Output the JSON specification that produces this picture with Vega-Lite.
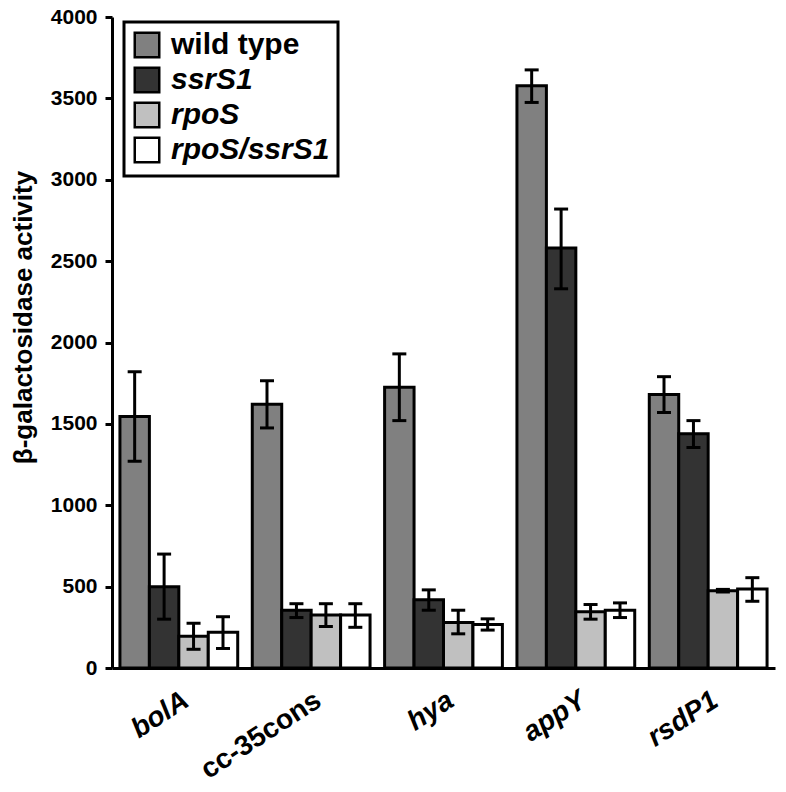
{
  "$schema": "https://vega.github.io/schema/vega-lite/v6.json",
  "width": 663,
  "height": 651,
  "autosize": {"type": "none"},
  "padding": {"left": 112, "top": 17, "right": 11, "bottom": 124},
  "background": "white",
  "config": {"view": {"stroke": null}, "font": "Liberation Sans", "axis": {"grid": false}},
  "data": {
    "values": [
      {"gene": "bolA", "strain": "wild type", "value": 1545, "lo": 1270, "hi": 1820},
      {"gene": "bolA", "strain": "ssrS1", "value": 500, "lo": 300, "hi": 700},
      {"gene": "bolA", "strain": "rpoS", "value": 195, "lo": 115, "hi": 275},
      {"gene": "bolA", "strain": "rpoS/ssrS1", "value": 220, "lo": 120, "hi": 315},
      {"gene": "cc-35cons", "strain": "wild type", "value": 1620, "lo": 1475, "hi": 1765},
      {"gene": "cc-35cons", "strain": "ssrS1", "value": 355, "lo": 310, "hi": 395},
      {"gene": "cc-35cons", "strain": "rpoS", "value": 325, "lo": 255, "hi": 395},
      {"gene": "cc-35cons", "strain": "rpoS/ssrS1", "value": 325, "lo": 250, "hi": 395},
      {"gene": "hya", "strain": "wild type", "value": 1725, "lo": 1520, "hi": 1930},
      {"gene": "hya", "strain": "ssrS1", "value": 420, "lo": 355, "hi": 480},
      {"gene": "hya", "strain": "rpoS", "value": 280, "lo": 210, "hi": 355},
      {"gene": "hya", "strain": "rpoS/ssrS1", "value": 268, "lo": 233, "hi": 302},
      {"gene": "appY", "strain": "wild type", "value": 3578, "lo": 3475, "hi": 3675},
      {"gene": "appY", "strain": "ssrS1", "value": 2580, "lo": 2330, "hi": 2820},
      {"gene": "appY", "strain": "rpoS", "value": 345, "lo": 300, "hi": 390},
      {"gene": "appY", "strain": "rpoS/ssrS1", "value": 355, "lo": 310, "hi": 400},
      {"gene": "rsdP1", "strain": "wild type", "value": 1680, "lo": 1570, "hi": 1790},
      {"gene": "rsdP1", "strain": "ssrS1", "value": 1440, "lo": 1355, "hi": 1520},
      {"gene": "rsdP1", "strain": "rpoS", "value": 475, "lo": 467, "hi": 483},
      {"gene": "rsdP1", "strain": "rpoS/ssrS1", "value": 485, "lo": 410, "hi": 555}
    ]
  },
  "encoding": {
    "x": {
      "field": "gene",
      "type": "nominal",
      "sort": ["bolA", "cc-35cons", "hya", "appY", "rsdP1"],
      "scale": {"paddingInner": 0.11, "paddingOuter": 0.06},
      "axis": {
        "title": null,
        "domainWidth": 3,
        "domainColor": "black",
        "ticks": false,
        "labelAngle": -33,
        "labelFontSize": 28,
        "labelFontWeight": "bold",
        "labelFontStyle": {"condition": {"test": "datum.value == 'cc-35cons'", "value": "normal"}, "value": "italic"},
        "labelAlign": "right",
        "labelBaseline": "top",
        "labelPadding": 18,
        "labelColor": "black",
        "labelLimit": 300
      }
    },
    "xOffset": {
      "field": "strain",
      "type": "nominal",
      "sort": ["wild type", "ssrS1", "rpoS", "rpoS/ssrS1"],
      "scale": {"paddingInner": 0, "paddingOuter": 0}
    }
  },
  "layer": [
    {
      "mark": {"type": "bar", "stroke": "black", "strokeWidth": 3},
      "encoding": {
        "y": {
          "field": "value",
          "type": "quantitative",
          "scale": {"domain": [0, 4000], "nice": false},
          "axis": {
            "values": [0, 500, 1000, 1500, 2000, 2500, 3000, 3500, 4000],
            "format": "d",
            "title": "β-galactosidase activity",
            "titleFontSize": 26,
            "titleFontWeight": "bold",
            "titleColor": "black",
            "titlePadding": 14,
            "titleY": 300,
            "domainWidth": 3,
            "domainColor": "black",
            "tickWidth": 3,
            "tickSize": 7,
            "tickColor": "black",
            "labelFontSize": 21,
            "labelFontWeight": "bold",
            "labelColor": "black",
            "labelPadding": 8
          }
        },
        "fill": {
          "field": "strain",
          "type": "nominal",
          "scale": {"domain": ["wild type", "ssrS1", "rpoS", "rpoS/ssrS1"], "range": ["#808080", "#333333", "#c0c0c0", "#ffffff"]},
          "legend": {
            "title": null,
            "orient": "none",
            "legendX": 12,
            "legendY": 5,
            "symbolType": "square",
            "symbolSize": 600,
            "symbolStrokeColor": "black",
            "symbolStrokeWidth": 2.5,
            "symbolOpacity": 1,
            "labelFontSize": 30,
            "labelFontWeight": "bold",
            "labelColor": "black",
            "labelOffset": 9,
            "labelLimit": 400,
            "rowPadding": -1,
            "padding": 8,
            "strokeColor": "black",
            "fillColor": "white",
            "encode": {
              "labels": {"update": {"fontStyle": {"signal": "datum.label == 'wild type' ? 'normal' : 'italic'"}}},
              "legend": {"update": {"stroke": {"value": "black"}, "strokeWidth": {"value": 3}}}
            }
          }
        }
      }
    },
    {
      "mark": {"type": "rule", "strokeWidth": 3, "color": "black"},
      "encoding": {"y": {"field": "lo", "type": "quantitative"}, "y2": {"field": "hi"}}
    },
    {
      "mark": {"type": "tick", "thickness": 3, "size": 14, "color": "black", "opacity": 1},
      "encoding": {"y": {"field": "lo", "type": "quantitative"}}
    },
    {
      "mark": {"type": "tick", "thickness": 3, "size": 14, "color": "black", "opacity": 1},
      "encoding": {"y": {"field": "hi", "type": "quantitative"}}
    }
  ]
}
